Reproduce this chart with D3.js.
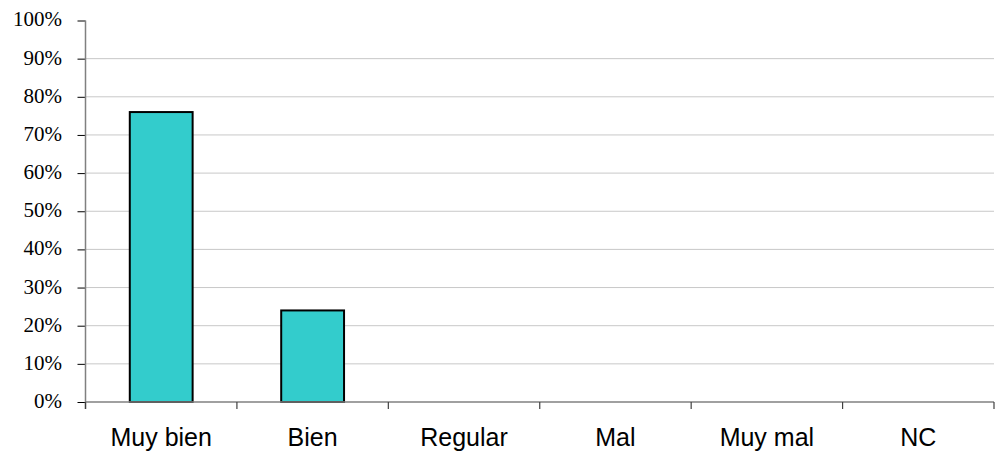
<!DOCTYPE html>
<html>
<head>
<meta charset="utf-8">
<script src="https://cdn.jsdelivr.net/npm/d3@7"></script>
<style>
  body { margin: 0; background: #fff; }
  .y.axis text { font-family: "Liberation Serif", "Times New Roman", serif; font-size: 21px; fill: #000; }
  .x.axis text { font-family: "Liberation Sans", Arial, sans-serif; font-size: 25px; fill: #000; }
</style>
</head>
<body>
<script>
var categories = ["Muy bien", "Bien", "Regular", "Mal", "Muy mal", "NC"];
var values = [0.76, 0.24, 0, 0, 0, 0];
var yTicks = [0, 0.1, 0.2, 0.3, 0.4, 0.5, 0.6, 0.7, 0.8, 0.9, 1];

var margin = {top: 20.5, right: 6, bottom: 50, left: 85.5};
var width = 1000 - margin.left - margin.right;
var height = 452 - margin.top - margin.bottom;

var svg = d3.select('body')
  .append('svg')
  .attr('width', 1000)
  .attr('height', 452)
.append('g')
  .attr('transform', 'translate(' + margin.left + ',' + margin.top + ')');

// scales
var xScale = d3.scaleBand()
  .domain(categories)
  .range([0, width])
  .paddingInner(0.585)
  .paddingOuter(0.2925);

var yScale = d3.scaleLinear()
  .domain([0, 1])
  .range([height, 0]);

// gridlines (none at 100%)
svg.append('g')
  .selectAll('line')
  .data(yTicks.filter(function(d){ return d > 0 && d < 1; }))
  .enter().append('line')
  .attr('x1', 0)
  .attr('x2', width)
  .attr('y1', function(d){ return yScale(d); })
  .attr('y2', function(d){ return yScale(d); })
  .attr('stroke', '#c8c8c8')
  .attr('stroke-width', 1);

// bars
svg.selectAll('.bar')
  .data(values)
  .enter().append('rect')
  .filter(function(d){ return d > 0; })
  .attr('class', 'bar')
  .attr('x', function(d, i){ return xScale(categories[i]); })
  .attr('y', function(d){ return yScale(d); })
  .attr('width', xScale.bandwidth())
  .attr('height', function(d){ return height - yScale(d); })
  .attr('fill', '#33cccc')
  .attr('stroke', '#000')
  .attr('stroke-width', 2);

// y axis
var yAxis = d3.axisLeft(yScale)
  .tickValues(yTicks)
  .tickFormat(d3.format('.0%'))
  .tickSize(8)
  .tickPadding(15.5);

var gy = svg.append('g')
  .attr('class', 'y axis')
  .call(yAxis);
gy.select('.domain').remove();
gy.selectAll('.tick line').attr('stroke', '#000');
gy.selectAll('.tick text').attr('dy', '0.26em');

// x axis line
svg.append('line')
  .attr('x1', 0).attr('x2', width)
  .attr('y1', height).attr('y2', height)
  .attr('stroke', '#808080').attr('stroke-width', 1.5);

// y axis line
svg.append('line')
  .attr('x1', 0).attr('x2', 0)
  .attr('y1', 0).attr('y2', height + 7)
  .attr('stroke', '#808080').attr('stroke-width', 1.5);

// category boundary ticks
svg.append('g')
  .selectAll('line')
  .data(d3.range(categories.length + 1))
  .enter().append('line')
  .attr('x1', function(i){ return i * width / categories.length; })
  .attr('x2', function(i){ return i * width / categories.length; })
  .attr('y1', height)
  .attr('y2', height + 7)
  .attr('stroke', '#404040')
  .attr('stroke-width', 1.2);

// category labels
svg.append('g')
  .attr('class', 'x axis')
  .selectAll('text')
  .data(categories)
  .enter().append('text')
  .attr('x', function(d){ return xScale(d) + xScale.bandwidth() / 2; })
  .attr('y', height + 43.5)
  .attr('text-anchor', 'middle')
  .text(function(d){ return d; });
</script>
</body>
</html>
